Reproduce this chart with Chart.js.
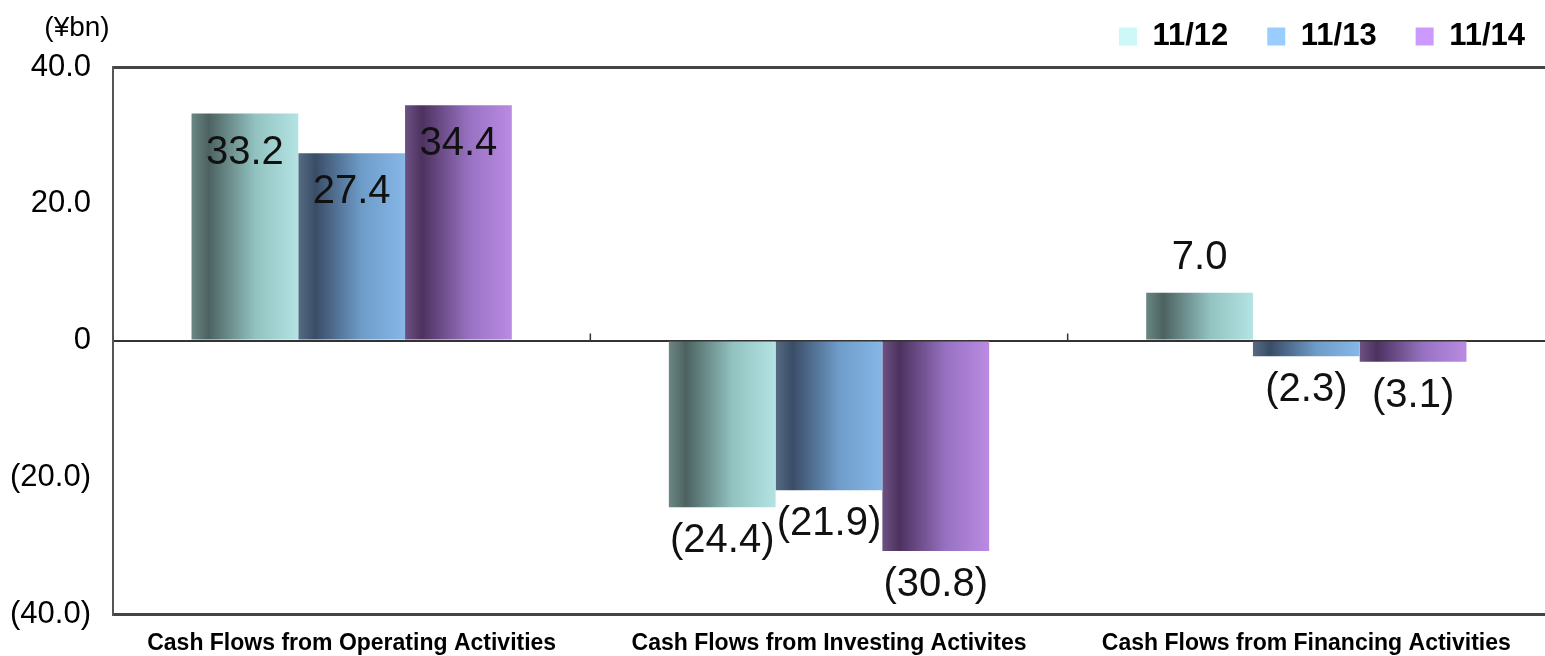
<!DOCTYPE html>
<html>
<head>
<meta charset="utf-8">
<title>Cash Flows</title>
<script src="https://cdn.jsdelivr.net/npm/chart.js@4.4.1/dist/chart.umd.min.js"></script>
<style>
    body { margin: 0; background: #fff; }
    #wrap { width: 1545px; height: 656px; position: relative; }
</style>
</head>
<body>
<div id="wrap"><canvas id="cashFlowChart"></canvas></div>
<script>
'use strict';

// chart data
var categories = [
    'Cash Flows from Operating Activities',
    'Cash Flows from Investing Activites',
    'Cash Flows from Financing Activities'
];
var seriesNames = ['11/12', '11/13', '11/14'];
var fy12 = [33.2, -24.4, 7.0];
var fy13 = [27.4, -21.9, -2.3];
var fy14 = [34.4, -30.8, -3.1];
var yTickValues = [40, 20, 0, -20, -40];
var yTickLabels = ['40.0', '20.0', '0', '(20.0)', '(40.0)'];
var unitLabel = '(¥bn)';

var FONT = "'Liberation Sans', Arial, sans-serif";

// legend colour + bar gradient stops for each series
var seriesStyles = [
    { legend: '#ccf8f8', edge: '#6b8785', dark: '#4c6260', mid: '#92c3c1', light: '#b3e3e2' },
    { legend: '#99ccff', edge: '#566c83', dark: '#3a4d67', mid: '#6f9dca', light: '#86b7e7' },
    { legend: '#cc99ff', edge: '#6d5184', dark: '#4d325f', mid: '#9872c2', light: '#ba8be3' }
];

function formatValue(v) {
    return v < 0 ? '(' + Math.abs(v).toFixed(1) + ')' : v.toFixed(1);
}

//nudge the legend up/right after layout so the plot keeps its own top edge
var legendNudge = {
    id: 'legendNudge',
    afterLayout: function(chart) {
        var lg = chart.legend;
        if (!lg) return;
        lg.top -= 18;
        lg.bottom -= 18;
        lg.left += 19;
        lg.right += 19;
    }
};

//paint every bar with a horizontal gradient spanning its own width
var gradientBars = {
    id: 'gradientBars',
    beforeDatasetsDraw: function(chart) {
        var ctx = chart.ctx;
        chart.data.datasets.forEach(function(ds, di) {
            var st = seriesStyles[di];
            chart.getDatasetMeta(di).data.forEach(function(bar) {
                var x0 = bar.x - bar.width / 2;
                var x1 = bar.x + bar.width / 2;
                var g = ctx.createLinearGradient(x0, 0, x1, 0);
                g.addColorStop(0, st.edge);
                g.addColorStop(0.16, st.dark);
                g.addColorStop(0.6, st.mid);
                g.addColorStop(1, st.light);
                bar.options.backgroundColor = g;
            });
        });
    }
};

//value labels, small category ticks on the zero line and the unit text
var decorations = {
    id: 'decorations',
    afterDatasetsDraw: function(chart) {
        var ctx = chart.ctx;
        var xs = chart.scales.x, ys = chart.scales.y;
        var zeroY = ys.getPixelForValue(0);

        ctx.save();
        ctx.strokeStyle = '#333';
        ctx.lineWidth = 1.5;
        for (var i = 1; i < categories.length; i++) {
            var bx = (xs.getPixelForValue(i - 1) + xs.getPixelForValue(i)) / 2;
            ctx.beginPath();
            ctx.moveTo(bx, zeroY);
            ctx.lineTo(bx, zeroY - 7);
            ctx.stroke();
        }

        ctx.fillStyle = '#111';
        ctx.font = '40px ' + FONT;
        ctx.textAlign = 'center';
        ctx.textBaseline = 'middle';
        chart.data.datasets.forEach(function(ds, di) {
            chart.getDatasetMeta(di).data.forEach(function(bar, j) {
                var v = ds.data[j];
                var h = Math.abs(bar.base - bar.y);
                var y;
                if (v > 0 && h > 100) {
                    y = bar.y + 39;      // inside, near the top
                } else if (v > 0) {
                    y = bar.y - 35;      // above short bars
                } else {
                    y = bar.y + 34;      // below negative bars
                }
                ctx.fillText(formatValue(v), bar.x, y);
            });
        });

        ctx.font = '28px ' + FONT;
        ctx.fillStyle = '#000';
        ctx.fillText(unitLabel, chart.chartArea.left - 36, 28);
        ctx.restore();
    }
};

function lineColor(ctx) {
    var v = ctx.tick.value;
    if (v === 0) return '#333';
    if (v === 40 || v === -40) return '#444';
    return 'rgba(0,0,0,0)';
}

function lineWidth(ctx) {
    var v = ctx.tick.value;
    return (v === 40 || v === -40) ? 3 : 2;
}

var seriesData = [fy12, fy13, fy14];
var datasets = seriesNames.map(function(name, i) {
    return {
        label: name,
        data: seriesData[i],
        backgroundColor: function() { return seriesStyles[i].legend; },
        borderWidth: 0,
        categoryPercentage: 0.671,
        barPercentage: 1.0
    };
});

var cfCtx = document.getElementById('cashFlowChart').getContext('2d');
window.cashFlowChart = new Chart(cfCtx, {
    type: 'bar',
    data: { labels: categories, datasets: datasets },
    options: {
        responsive: true,
        maintainAspectRatio: false,
        animation: false,
        layout: { padding: 0 },
        plugins: {
            legend: {
                position: 'top',
                align: 'end',
                maxHeight: 67,
                labels: {
                    color: '#000',
                    font: { family: FONT, size: 31, weight: 'bold' },
                    boxWidth: 18,
                    boxHeight: 18,
                    padding: 39
                }
            },
            tooltip: { enabled: false }
        },
        scales: {
            x: {
                grid: { display: false },
                border: { display: false },
                ticks: {
                    color: '#000',
                    font: { family: FONT, size: 23, weight: 'bold' },
                    padding: 8,
                    maxRotation: 0,
                    autoSkip: false
                },
                afterFit: function(scale) { scale.height = 42; }
            },
            y: {
                min: -40,
                max: 40,
                afterBuildTicks: function(scale) {
                    scale.ticks = yTickValues.map(function(v) { return { value: v }; });
                },
                ticks: {
                    color: '#000',
                    font: { family: FONT, size: 31 },
                    padding: 22,
                    callback: function(value) {
                        var k = yTickValues.indexOf(value);
                        return k >= 0 ? yTickLabels[k] : '';
                    }
                },
                grid: {
                    drawTicks: false,
                    color: lineColor,
                    lineWidth: lineWidth
                },
                border: { display: true, color: '#555', width: 2 },
                afterFit: function(scale) { scale.width = 113; }
            }
        }
    },
    plugins: [legendNudge, gradientBars, decorations]
});
</script>
</body>
</html>
